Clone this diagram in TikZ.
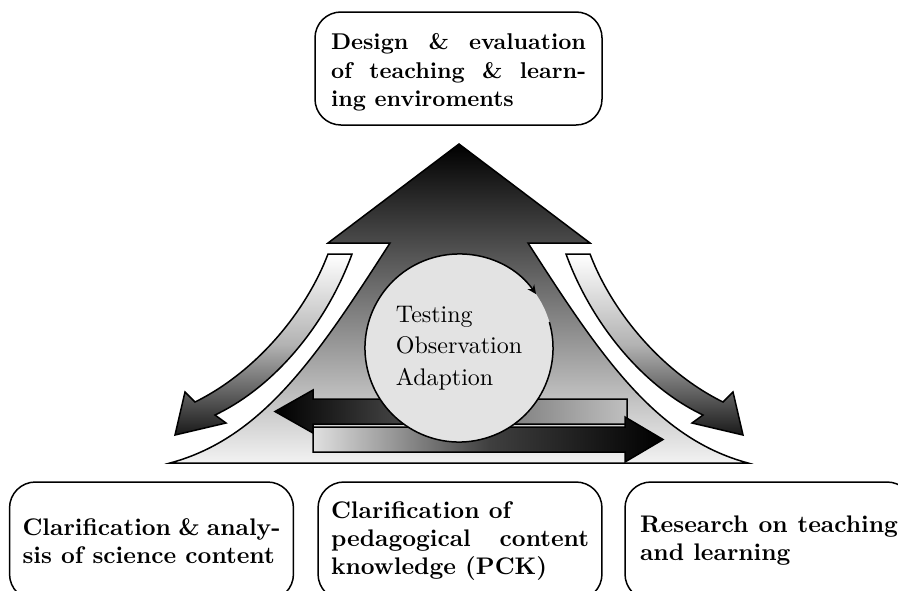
\documentclass[tikz,border=0pt]{standalone}
\usetikzlibrary{arrows.meta}
\begin{document}
\begin{tikzpicture}[x=0.416667pt,y=0.416667pt,
  outline/.style={draw=black,line width=0.625pt,line join=miter},
  box/.style={draw=black,line width=0.625pt,rounded corners=10.8pt,fill=white,
    align=justify,inner ysep=0pt},
  topfont/.style={font=\bfseries\fontsize{9.5}{11.875}\selectfont},
  basefont/.style={font=\bfseries\fontsize{10}{11.67}\selectfont},
  cyclebox/.style={circle,fill=black!11,minimum size=78.33pt,inner sep=0pt,
    outer sep=0pt,align=left,font=\fontsize{10}{13.125}\selectfont}]
\useasboundingbox (0,0) rectangle (898,-590);
\clip (0,0) rectangle (898,-590);

% central tent-shaped arrow pointing up
\path[outline,top color=black,bottom color=black!5]
  (459,-144) -- (590,-243) -- (528,-243)
  .. controls (600,-355) and (655,-438) .. (748,-463)
  -- (170,-463)
  .. controls (263,-438) and (318,-355) .. (390,-243)
  -- (328,-243) -- cycle;

% curved arrows running down the two sides
\path[outline,top color=white,bottom color=black!90,middle color=black!30]
  (566,-254) .. controls (590,-320) and (640,-385) .. (703,-415)
  -- (692,-423) -- (743,-435) -- (733,-392) -- (723,-402)
  .. controls (662,-372) and (612,-312) .. (590,-254) -- cycle;
\path[outline,top color=white,bottom color=black!90,middle color=black!30]
  (352,-254) .. controls (328,-320) and (278,-385) .. (215,-415)
  -- (226,-423) -- (175,-435) -- (185,-392) -- (195,-402)
  .. controls (256,-372) and (306,-312) .. (328,-254) -- cycle;

% horizontal arrows behind the cycle
\path[outline,left color=black,right color=black!25]
  (275,-411.5) -- (313,-390) -- (313,-399) -- (627,-399) -- (627,-424)
  -- (313,-424) -- (313,-433) -- cycle;
\path[outline,left color=black!12,right color=black,middle color=black!75]
  (313,-427) -- (625,-427) -- (625,-417) -- (663,-439.5) -- (625,-462)
  -- (625,-452) -- (313,-452) -- cycle;

% the cycle
\node[cyclebox] (cyc) at (459,-348) {Testing\\Observation\\Adaption};
\draw[outline,-{Stealth[length=3.75pt,width=3.4pt]}]
  (cyc.16) arc[start angle=16,end angle=-325,radius=39.17pt];

% boxes
\node[box,topfont,text width=106.25pt,inner xsep=6.67pt,minimum height=47.08pt]
  (design) at (458.5,-68.5)
  {\rule{0pt}{10.2pt}Design \& evaluation\linebreak of teaching \& learn-\linebreak ing enviroments};
\node[box,basefont,text width=107.5pt,inner xsep=5.4pt,minimum height=49.17pt]
  (content) at (151.5,-541)
  {Clarification \& analy-\linebreak sis of science content};
\node[box,basefont,text width=107.5pt,inner xsep=5.4pt,minimum height=49.17pt]
  (pck) at (460,-541)
  {Clarification of\\ pedagogical content\linebreak knowledge (PCK)};
\node[box,basefont,text width=107.5pt,inner xsep=6.25pt,minimum height=49.17pt]
  (research) at (769,-541)
  {Research on teaching\linebreak and learning};
\end{tikzpicture}
\end{document}
